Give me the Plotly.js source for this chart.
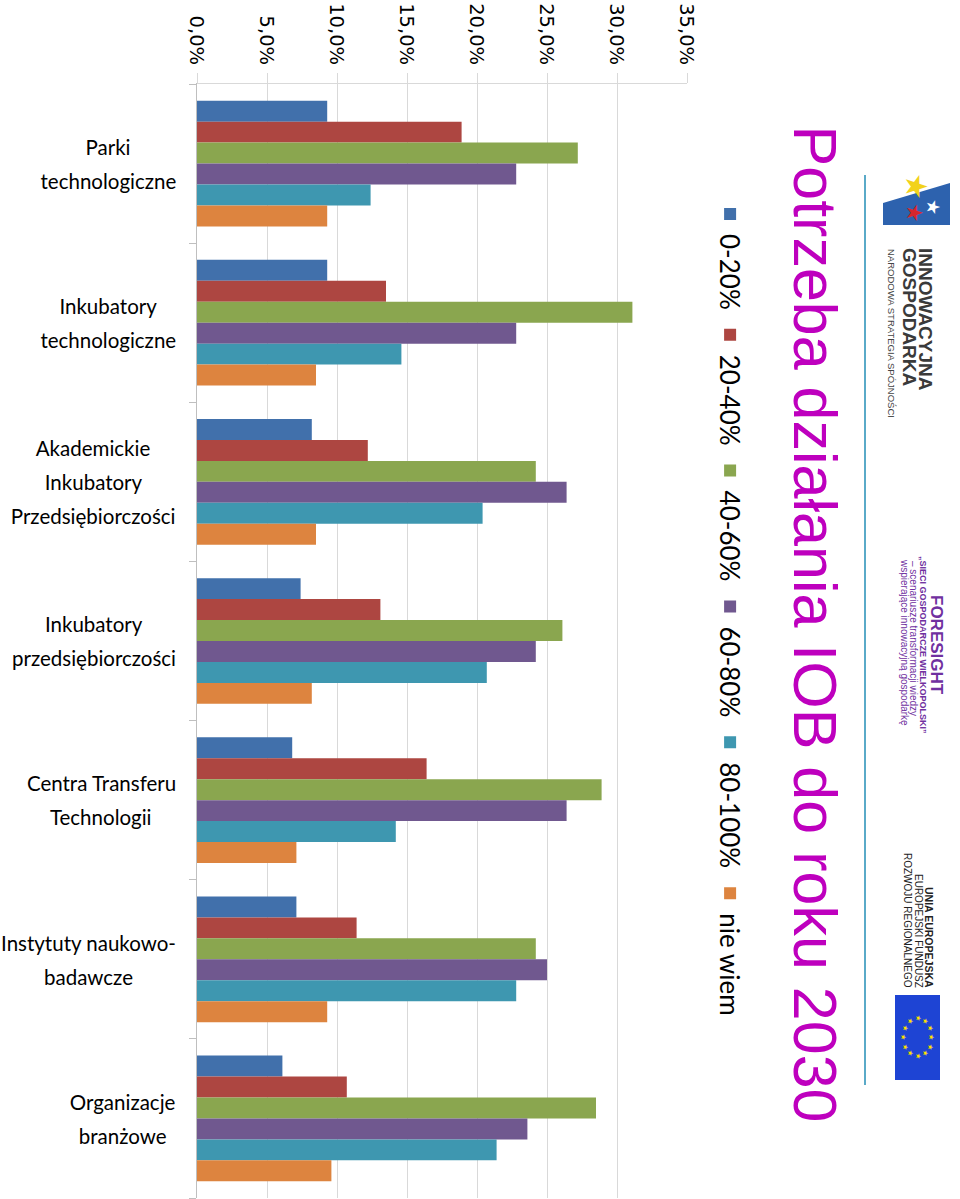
<!DOCTYPE html>
<html>
<head>
<meta charset="utf-8">
<script src="https://cdn.plot.ly/plotly-3.0.1.min.js"></script>
<style>
html,body{margin:0;padding:0;background:#fff;overflow:hidden;width:960px;height:1199px;}
#chart{position:absolute;left:0;top:0;width:1199px;height:960px;transform-origin:0 0;transform:translate(960px,0) rotate(90deg);}
</style>
</head>
<body>
<div id="chart"></div>
<script>
// ---- data ----
const categories = [
  'Parki<br>technologiczne',
  'Inkubatory<br>technologiczne',
  'Akademickie<br>Inkubatory<br>Przedsiębiorczości',
  'Inkubatory<br>przedsiębiorczości',
  'Centra Transferu<br>Technologii',
  'Instytuty naukowo-<br>badawcze',
  'Organizacje<br>branżowe'
];
const seriesNames = ['0-20%', '20-40%', '40-60%', '60-80%', '80-100%', 'nie wiem'];
const s0_20    = [9.3, 9.3, 8.2, 7.4, 6.8, 7.1, 6.1];
const s20_40   = [18.9, 13.5, 12.2, 13.1, 16.4, 11.4, 10.7];
const s40_60   = [27.2, 31.1, 24.2, 26.1, 28.9, 24.2, 28.5];
const s60_80   = [22.8, 22.8, 26.4, 24.2, 26.4, 25.0, 23.6];
const s80_100  = [12.4, 14.6, 20.4, 20.7, 14.2, 22.8, 21.4];
const sNieWiem = [9.3, 8.5, 8.5, 8.2, 7.1, 9.3, 9.6];
const titleText = 'Potrzeba działania IOB do roku 2030';

// ---- styling ----
const colors = ['#4170AB', '#AD4641', '#8AA64F', '#70588F', '#3E97B0', '#DD843F'];
const allSeries = [s0_20, s20_40, s40_60, s60_80, s80_100, sNieWiem];

const W = 1199, H = 960;
const M = {l: 84, r: 1, t: 273, b: 197};
const PW = W - M.l - M.r, PH = H - M.t - M.b;
const fx = X => (X - M.l) / PW;
const fy = Y => (M.t + PH - Y) / PH;

const traces = allSeries.map((vals, i) => ({
  type: 'bar',
  name: seriesNames[i],
  x: categories,
  y: vals,
  marker: {color: colors[i]},
  hoverinfo: 'skip'
}));

const annotations = [];
// category labels (each line separately, centered within block)
const catFont = 20.5;
const ctx = document.createElement('canvas').getContext('2d');
ctx.font = catFont + 'px Lato';
categories.forEach((cat) => {
  const lines = cat.split('<br>');
  const wmax = Math.max(...lines.map(s => ctx.measureText(s).width));
  lines.forEach((ln, li) => {
    annotations.push({
      xref: 'x', yref: 'paper', x: cat, y: 0,
      text: ln, showarrow: false, textangle: -90,
      xanchor: 'center', yanchor: 'middle',
      xshift: (li - (lines.length - 1) / 2) * 34,
      yshift: -(21 + wmax / 2),
      font: {family: 'Lato, sans-serif', size: catFont, color: '#000'}
    });
  });
});

function txt(text, X, Y, size, color, opts) {
  annotations.push(Object.assign({
    xref: 'paper', yref: 'paper', x: fx(X), y: fy(Y), text: text,
    showarrow: false, xanchor: 'left', yanchor: 'middle',
    font: {family: 'Liberation Sans, Arial, sans-serif', size: size, color: color}
  }, opts || {}));
}
// logo 1
txt('★', 186, 44, 30, '#F2D21B', {xanchor: 'center'});
txt('★', 207, 27, 18, '#FFFFFF', {xanchor: 'center'});
txt('★', 213, 45, 22, '#D4262E', {xanchor: 'center'});
txt('<b>INNOWACYJNA</b>', 246, 35, 19, '#3a3a3a');
txt('<b>GOSPODARKA</b>', 246, 51, 19, '#3a3a3a');
txt('NARODOWA STRATEGIA SPÓJNOŚCI', 247, 68, 9.5, '#444');
// logo 2
txt('<b>FORESIGHT</b>', 645, 24, 17, '#7030A0', {xanchor: 'center'});
txt('<b>„SIECI GOSPODARCZE WIELKOPOLSKI”</b>', 645, 37, 9, '#7030A0', {xanchor: 'center'});
txt('– scenariusze transformacji wiedzy', 638, 46, 10, '#7030A0', {xanchor: 'center'});
txt('wspierające innowacyjną gospodarkę', 642, 55, 10, '#7030A0', {xanchor: 'center'});
// logo 3
txt('<b>UNIA EUROPEJSKA</b>', 990, 31, 10.5, '#222', {xanchor: 'right'});
txt('EUROPEJSKI FUNDUSZ', 990, 42, 10, '#222', {xanchor: 'right'});
txt('ROZWOJU REGIONALNEGO', 990, 53, 10, '#222', {xanchor: 'right'});
for (let k = 0; k < 12; k++) {
  const a = k * Math.PI / 6;
  txt('★', 1037 + 19 * Math.cos(a), 42 + 14 * Math.sin(a), 7, '#FFE000', {xanchor: 'center'});
}

const shapes = [
  {type: 'path', xref: 'paper', yref: 'paper', layer: 'below',
   path: `M${fx(183)},${fy(10)} L${fx(225)},${fy(10)} L${fx(225)},${fy(77)} L${fx(203)},${fy(77)} Z`,
   fillcolor: '#2D62AE', line: {width: 0}},
  {type: 'rect', xref: 'paper', yref: 'paper', layer: 'below',
   x0: fx(995), x1: fx(1080), y0: fy(20), y1: fy(65), fillcolor: '#1E44D4', line: {width: 0}},
  {type: 'line', xref: 'paper', yref: 'paper',
   x0: fx(175), x1: fx(1085), y0: fy(95), y1: fy(95), line: {color: '#5AAAC8', width: 2}}
];

const layout = {
  width: W, height: H,
  margin: {l: M.l, r: M.r, t: M.t, b: M.b, pad: 0},
  paper_bgcolor: '#fff', plot_bgcolor: '#fff',
  separators: ',.',
  barmode: 'group', bargap: 0.21, bargroupgap: 0,
  font: {family: 'DejaVu Sans, sans-serif', color: '#000'},
  title: {
    text: titleText, x: 624 / W, xanchor: 'center', xref: 'container',
    y: 1 - 145 / H, yanchor: 'middle', yref: 'container',
    font: {family: 'Liberation Sans, Arial, sans-serif', size: 61, color: '#BE00BE'}
  },
  showlegend: true,
  legend: {
    orientation: 'h', x: fx(194), xanchor: 'left', y: fy(230), yanchor: 'middle',
    font: {family: 'Lato, sans-serif', size: 26, color: '#000'},
    traceorder: 'normal', bgcolor: 'rgba(0,0,0,0)', itemclick: false, itemdoubleclick: false
  },
  xaxis: {
    type: 'category', showticklabels: false, showgrid: false,
    showline: true, linecolor: '#BFBFBF', linewidth: 1,
    ticks: 'outside', tickson: 'boundaries', ticklen: 7, tickcolor: '#BFBFBF',
    fixedrange: true
  },
  yaxis: {
    range: [0, 35], dtick: 5, tick0: 0, tickformat: '.1f', ticksuffix: '%',
    showgrid: true, gridcolor: '#D9D9D9', gridwidth: 1, zeroline: false,
    showline: true, linecolor: '#D9D9D9', linewidth: 1,
    ticks: 'outside', ticklen: 10, tickcolor: '#D9D9D9', ticklabelstandoff: 4,
    tickfont: {family: 'DejaVu Sans, sans-serif', size: 19.5, color: '#000'},
    fixedrange: true
  },
  annotations: annotations,
  shapes: shapes
};

Plotly.newPlot('chart', traces, layout, {staticPlot: true, displayModeBar: false});
</script>
</body>
</html>
